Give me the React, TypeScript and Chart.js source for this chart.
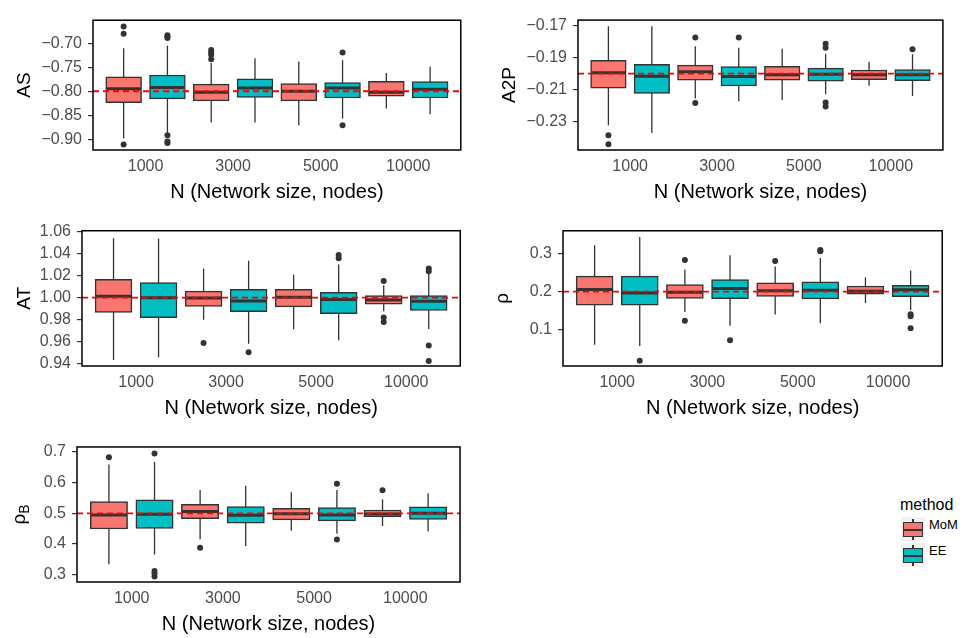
import React, { useEffect, useRef } from 'react';
import { Chart, registerables } from 'chart.js';

Chart.register(...registerables);

const FONT = "'Liberation Sans', Arial, Helvetica, sans-serif";

const N_LABELS = ['1000', '3000', '5000', '10000'];
const METHODS = ['MoM', 'EE'];
const METHOD_COLORS = ['#F8766D', '#00BFC4'];
const X_TITLE = 'N (Network size, nodes)';

// each box: [lower whisker, Q1, median, Q3, upper whisker], one per N
const AS_MOM = [
  [-0.898, -0.824, -0.795, -0.770, -0.710],
  [-0.865, -0.820, -0.802, -0.785, -0.741],
  [-0.871, -0.820, -0.800, -0.784, -0.738],
  [-0.836, -0.810, -0.802, -0.779, -0.762],
];
const AS_EE = [
  [-0.888, -0.816, -0.792, -0.766, -0.705],
  [-0.865, -0.813, -0.793, -0.774, -0.731],
  [-0.857, -0.814, -0.793, -0.782, -0.735],
  [-0.848, -0.814, -0.796, -0.780, -0.749],
];
const AS_MOM_OUT = [[-0.665, -0.680, -0.911], [-0.714, -0.719, -0.724, -0.733], [], []];
const AS_EE_OUT = [[-0.683, -0.686, -0.689, -0.892, -0.905, -0.908], [], [-0.719, -0.871], []];
const AS_TICKS = [-0.9, -0.85, -0.8, -0.75, -0.7];

const A2P_MOM = [
  [-0.2323, -0.2090, -0.1994, -0.1917, -0.1703],
  [-0.2155, -0.2041, -0.1988, -0.1947, -0.1828],
  [-0.2165, -0.2041, -0.2007, -0.1954, -0.1844],
  [-0.2075, -0.2037, -0.2007, -0.1977, -0.1926],
];
const A2P_EE = [
  [-0.2370, -0.2123, -0.2016, -0.1941, -0.1703],
  [-0.2172, -0.2077, -0.2018, -0.1956, -0.1838],
  [-0.2129, -0.2047, -0.2003, -0.1965, -0.1875],
  [-0.2139, -0.2043, -0.2007, -0.1975, -0.1879],
];
const A2P_MOM_OUT = [[-0.2385, -0.2441], [-0.1774, -0.2184], [], []];
const A2P_EE_OUT = [[], [-0.1774], [-0.1813, -0.1838, -0.2180, -0.2205], [-0.1847]];
const A2P_TICKS = [-0.23, -0.21, -0.19, -0.17];

const AT_MOM = [
  [0.9431, 0.9866, 1.0014, 1.0167, 1.0542],
  [0.9800, 0.9920, 0.9997, 1.0060, 1.0267],
  [0.9713, 0.9917, 1.0005, 1.0077, 1.0210],
  [0.9877, 0.9940, 0.9980, 1.0020, 1.0113],
];
const AT_EE = [
  [0.9457, 0.9818, 1.0000, 1.0139, 1.0537],
  [0.9579, 0.9872, 0.9971, 1.0077, 1.0338],
  [0.9613, 0.9855, 0.9983, 1.0048, 1.0304],
  [0.9715, 0.9883, 0.9968, 1.0020, 1.0230],
];
const AT_MOM_OUT = [[], [0.9587], [], [1.0153, 0.982, 0.9778]];
const AT_EE_OUT = [[], [0.9502], [1.0389, 1.036], [1.0267, 1.0241, 0.9565, 0.9423]];
const AT_TICKS = [0.94, 0.96, 0.98, 1.0, 1.02, 1.04, 1.06];

const RHO_MOM = [
  [0.0617, 0.1647, 0.2060, 0.2405, 0.3210],
  [0.1467, 0.1827, 0.1985, 0.2183, 0.2578],
  [0.1407, 0.1877, 0.2025, 0.2232, 0.2660],
  [0.1704, 0.1936, 0.2010, 0.2148, 0.2380],
];
const RHO_EE = [
  [0.0585, 0.1647, 0.1968, 0.2405, 0.3425],
  [0.1111, 0.1820, 0.2084, 0.2314, 0.2948],
  [0.1178, 0.1812, 0.2035, 0.2257, 0.2880],
  [0.1523, 0.1869, 0.2050, 0.2165, 0.2553],
];
const RHO_MOM_OUT = [[], [0.2825, 0.1244], [0.28], []];
const RHO_EE_OUT = [[0.0198], [0.0733], [0.3086, 0.3055], [0.141, 0.136, 0.1047]];
const RHO_TICKS = [0.1, 0.2, 0.3];

const RHOB_MOM = [
  [0.3341, 0.4490, 0.4948, 0.5384, 0.6595],
  [0.4155, 0.4826, 0.5060, 0.5293, 0.5762],
  [0.4430, 0.4787, 0.4988, 0.5162, 0.5690],
  [0.4592, 0.4887, 0.4978, 0.5110, 0.5457],
];
const RHOB_EE = [
  [0.3659, 0.4512, 0.4970, 0.5445, 0.6677],
  [0.3933, 0.4683, 0.4939, 0.5223, 0.5902],
  [0.4338, 0.4756, 0.4948, 0.5192, 0.5762],
  [0.4409, 0.4805, 0.5000, 0.5213, 0.5659],
];
const RHOB_MOM_OUT = [[0.683], [0.388], [], [0.575]];
const RHOB_EE_OUT = [[0.695, 0.3119, 0.3037, 0.2945], [], [0.5963, 0.4146], []];
const RHOB_TICKS = [0.3, 0.4, 0.5, 0.6, 0.7];

const TRUE_VALUES = [-0.8, -0.2, 1.0, 0.2, 0.5];

type PanelCfg = {
  title: string;
  sub: string;
  mom: number[][];
  ee: number[][];
  momOut: number[][];
  eeOut: number[][];
  truth: number;
  ticks: number[];
  dec: number;
  yMin: number;
  yMax: number;
  pos: { left: number; top: number; w: number; h: number };
  area: { left: number; top: number; right: number; bottom: number };
  titleX: number;
};

const PANELS: PanelCfg[] = [
  {
    title: 'AS', sub: '', mom: AS_MOM, ee: AS_EE, momOut: AS_MOM_OUT, eeOut: AS_EE_OUT,
    truth: TRUE_VALUES[0], ticks: AS_TICKS, dec: 2, yMin: -0.9226, yMax: -0.6517,
    pos: { left: 0, top: 0, w: 481, h: 210 }, area: { left: 93, top: 6, right: 479, bottom: 150 }, titleX: 24.5,
  },
  {
    title: 'A2P', sub: '', mom: A2P_MOM, ee: A2P_EE, momOut: A2P_MOM_OUT, eeOut: A2P_EE_OUT,
    truth: TRUE_VALUES[1], ticks: A2P_TICKS, dec: 2, yMin: -0.2477, yMax: -0.1665,
    pos: { left: 481, top: 0, w: 482, h: 210 }, area: { left: 97, top: 6, right: 480, bottom: 150 }, titleX: 28.5,
  },
  {
    title: 'AT', sub: '', mom: AT_MOM, ee: AT_EE, momOut: AT_MOM_OUT, eeOut: AT_EE_OUT,
    truth: TRUE_VALUES[2], ticks: AT_TICKS, dec: 2, yMin: 0.9377, yMax: 1.0611,
    pos: { left: 0, top: 210, w: 481, h: 216 }, area: { left: 82, top: 12, right: 479, bottom: 156 }, titleX: 24.5,
  },
  {
    title: 'ρ', sub: '', mom: RHO_MOM, ee: RHO_EE, momOut: RHO_MOM_OUT, eeOut: RHO_EE_OUT,
    truth: TRUE_VALUES[3], ticks: RHO_TICKS, dec: 1, yMin: 0.006, yMax: 0.359,
    pos: { left: 481, top: 210, w: 482, h: 216 }, area: { left: 82, top: 12, right: 480, bottom: 156 }, titleX: 22,
  },
  {
    title: 'ρ', sub: 'B', mom: RHOB_MOM, ee: RHOB_EE, momOut: RHOB_MOM_OUT, eeOut: RHOB_EE_OUT,
    truth: TRUE_VALUES[4], ticks: RHOB_TICKS, dec: 1, yMin: 0.2762, yMax: 0.7165,
    pos: { left: 0, top: 426, w: 481, h: 212 }, area: { left: 77, top: 12, right: 479, bottom: 156 }, titleX: 20,
  },
];

function fmt(v: number, dec: number) {
  return v.toFixed(dec).replace('-', '\u2212');
}

function Panel({ cfg }: { cfg: PanelCfg }) {
  const ref = useRef<HTMLCanvasElement | null>(null);
  useEffect(() => {
    const canvas = ref.current;
    if (!canvas) return;
    const { w: W, h: H } = cfg.pos;
    const area = cfg.area;
    const unitPx = (area.right - area.left) / 4.2;
    const boxW = unitPx * 0.39;

    const boxes: any[] = [];
    const colors: string[] = [];
    const whiskers: any[] = [];
    const medians: any[] = [];
    const outliers: any[] = [];
    [cfg.mom, cfg.ee].forEach((series, m) => {
      const outs = m === 0 ? cfg.momOut : cfg.eeOut;
      series.forEach((s, i) => {
        const x = i + 1 + (m === 0 ? -0.25 : 0.25);
        boxes.push({ x, y: [s[1], s[3]] });
        colors.push(METHOD_COLORS[m]);
        whiskers.push({ x, y: s[0] }, { x, y: s[4] }, { x, y: null });
        medians.push({ x, y: s[2] });
        outs[i].forEach((v) => outliers.push({ x, y: v }));
      });
    });

    const framePlugin = {
      id: 'frame',
      afterDatasetsDraw(chart: any) {
        const { ctx, chartArea: a } = chart;
        ctx.save();
        ctx.strokeStyle = '#000';
        ctx.lineWidth = 1.5;
        ctx.strokeRect(a.left, a.top, a.right - a.left, a.bottom - a.top);
        ctx.restore();
      },
      afterDraw(chart: any) {
        const { ctx, chartArea: a } = chart;
        ctx.save();
        ctx.translate(cfg.titleX, (a.top + a.bottom) / 2);
        ctx.rotate(-Math.PI / 2);
        ctx.fillStyle = '#000';
        ctx.textBaseline = 'middle';
        ctx.font = `19px ${FONT}`;
        const mw = ctx.measureText(cfg.title).width;
        let sw = 0;
        if (cfg.sub) {
          ctx.font = `14px ${FONT}`;
          sw = ctx.measureText(cfg.sub).width;
        }
        const total = mw + sw;
        ctx.textAlign = 'left';
        ctx.font = `19px ${FONT}`;
        ctx.fillText(cfg.title, -total / 2, 0);
        if (cfg.sub) {
          ctx.font = `14px ${FONT}`;
          ctx.fillText(cfg.sub, -total / 2 + mw, 5);
        }
        ctx.restore();
      },
    };

    const chart = new Chart(canvas, {
      type: 'bar',
      data: {
        datasets: [
          {
            type: 'line', data: whiskers, borderColor: '#333', borderWidth: 1.3,
            pointRadius: 0, spanGaps: false, order: 5,
          } as any,
          {
            type: 'bar', data: boxes, backgroundColor: colors, borderColor: '#333', borderWidth: 1.5,
            borderSkipped: false, barThickness: boxW, order: 4,
          } as any,
          {
            type: 'scatter', data: medians, pointStyle: 'line', pointRadius: boxW / 2 - 0.7,
            pointBorderWidth: 3, pointBorderColor: '#333', borderColor: '#333', order: 3,
          } as any,
          {
            type: 'line', data: [{ x: 0.4, y: cfg.truth }, { x: 4.6, y: cfg.truth }],
            borderColor: '#FF0000', borderDash: [6, 4], borderWidth: 1.8, pointRadius: 0, order: 2,
          } as any,
          {
            type: 'scatter', data: outliers, pointRadius: 3, pointBackgroundColor: '#333',
            backgroundColor: '#333', pointBorderWidth: 0, borderWidth: 0, order: 1,
          } as any,
        ],
      },
      options: {
        responsive: false,
        animation: false,
        devicePixelRatio: 1,
        events: [],
        layout: { padding: { top: area.top, right: W - area.right, left: 0, bottom: 0 } },
        plugins: { legend: { display: false }, tooltip: { enabled: false } },
        scales: {
          x: {
            type: 'linear', min: 0.4, max: 4.6, offset: false,
            grid: { display: false, drawTicks: false, offset: false },
            border: { display: false },
            afterBuildTicks: (s: any) => { s.ticks = N_LABELS.map((_, i) => ({ value: i + 1 })); },
            ticks: {
              callback: (v: any) => N_LABELS[Math.round(Number(v)) - 1] ?? '',
              color: '#4D4D4D', font: { family: FONT, size: 16 }, padding: 7,
              maxRotation: 0, autoSkip: false,
            },
            title: {
              display: true, text: X_TITLE, color: '#000', font: { family: FONT, size: 20 },
              padding: { top: 0, bottom: H - area.bottom - 54 },
            },
            afterFit: (s: any) => { s.height = H - area.bottom; },
          },
          y: {
            type: 'linear', min: cfg.yMin, max: cfg.yMax, beginAtZero: false,
            grid: { drawOnChartArea: false, drawTicks: true, tickLength: 5, color: '#333', lineWidth: 1.2 },
            border: { display: false },
            afterBuildTicks: (s: any) => { s.ticks = cfg.ticks.map((v) => ({ value: v })); },
            ticks: {
              callback: (v: any) => fmt(Number(v), cfg.dec),
              color: '#4D4D4D', font: { family: FONT, size: 16 }, padding: 6, autoSkip: false,
            },
            afterFit: (s: any) => { s.width = area.left; },
          },
        } as any,
      },
      plugins: [framePlugin],
    });
    return () => chart.destroy();
  }, [cfg]);

  return (
    <canvas
      ref={ref}
      width={cfg.pos.w}
      height={cfg.pos.h}
      style={{ position: 'absolute', left: cfg.pos.left, top: cfg.pos.top, width: cfg.pos.w, height: cfg.pos.h }}
    />
  );
}

function LegendKey({ color }: { color: string }) {
  return (
    <div style={{ position: 'absolute', left: 0, top: 0, width: 24, height: 24, background: '#F2F2F2' }}>
      <div style={{ position: 'absolute', left: 11.3, top: 1.5, width: 1.4, height: 21, background: '#333' }} />
      <div
        style={{
          position: 'absolute', left: 2, top: 5, width: 20, height: 15, boxSizing: 'border-box',
          border: '1.4px solid #333', background: color,
        }}
      />
      <div style={{ position: 'absolute', left: 2, top: 11.5, width: 20, height: 2.4, background: '#333' }} />
    </div>
  );
}

export default function App() {
  return (
    <div style={{ position: 'absolute', left: 0, top: 0, width: 963, height: 638, background: '#fff', overflow: 'hidden' }}>
      {PANELS.map((p, i) => (
        <Panel key={i} cfg={p} />
      ))}
      <div style={{ position: 'absolute', left: 900, top: 497, font: `16px ${FONT}`, lineHeight: '16px', color: '#000' }}>
        method
      </div>
      {METHODS.map((m, k) => (
        <div key={m} style={{ position: 'absolute', left: 901, top: 517 + k * 26, width: 60, height: 24 }}>
          <LegendKey color={METHOD_COLORS[k]} />
          <div style={{ position: 'absolute', left: 28, top: 0, height: 24, lineHeight: '24px', font: `13px ${FONT}`, color: '#000' }}>
            {m}
          </div>
        </div>
      ))}
    </div>
  );
}
